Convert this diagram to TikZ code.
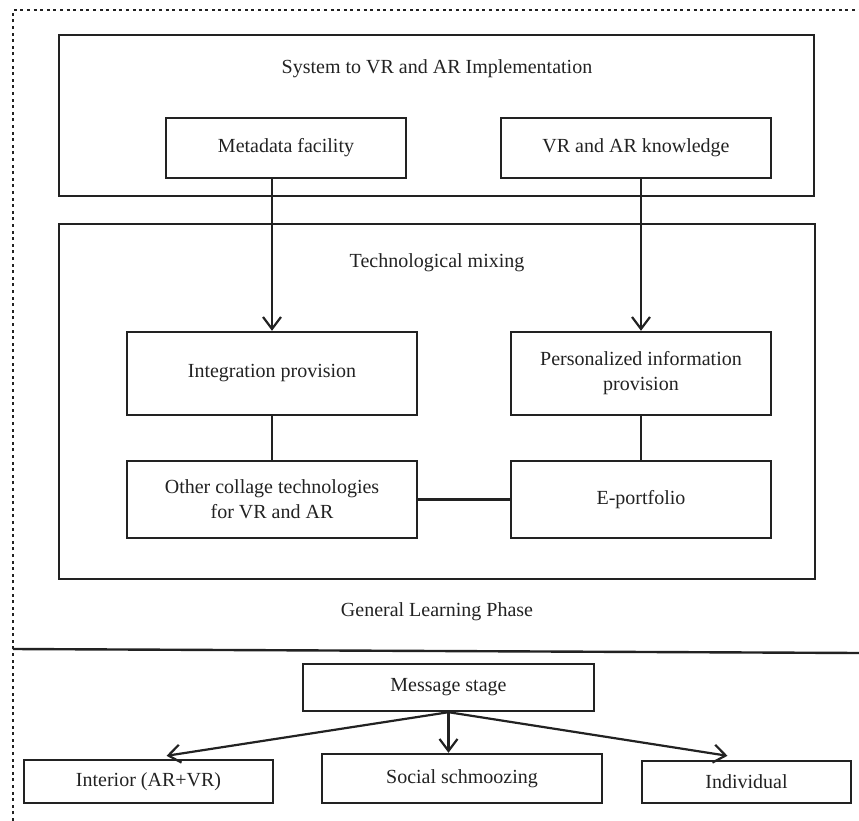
\documentclass[tikz,border=0pt]{standalone}
\usepackage{fontspec}
\setmainfont{Liberation Serif}
\usepackage{tikz}
\usetikzlibrary{arrows.meta,positioning,calc}
\definecolor{diagink}{HTML}{222222}
\tikzset{
  >={Straight Barb[length=12pt,width=18pt]},
  groupbox/.style={draw=diagink,line width=2.4pt,inner sep=0pt},
  itembox/.style={draw=diagink,line width=2.4pt,align=center,
                  font=\fontsize{20}{25}\selectfont,text=diagink,inner sep=2pt},
  titlenode/.style={font=\fontsize{20}{25}\selectfont,text=diagink},
  flowarrow/.style={->,line width=2.2pt,draw=diagink},
  linkline/.style={line width=2.4pt,draw=diagink},
  borderline/.style={line width=2.6pt,draw=diagink,dash pattern=on 3pt off 3.6pt},
}

\begin{document}
\begin{tikzpicture}[x=1pt,y=-1pt]
  \useasboundingbox (0,0) rectangle (859,821);
  % frame and phase divider
  \coordinate (fbot) at (13,821);
  \coordinate (fcorner) at (13,10);
  \coordinate (fright) at (859,10);
  \draw[borderline] (fbot) -- (fcorner) -- (fright);
  \coordinate (divl) at (13,649);
  \coordinate (divr) at (859,653);
  \draw[linkline] (divl) -- (divr);
  % general learning phase
  \node[groupbox,minimum width=755pt,minimum height=161pt] (sysbox) at (436.5,115.5) {};
  \node[titlenode] (systitle) at (437,69) {System to VR and AR Implementation};
  \node[itembox,minimum width=240pt,minimum height=60pt] (meta) at (286,148) {Metadata facility};
  \node[itembox,minimum width=270pt,minimum height=60pt] (know) at (636,148) {VR and AR knowledge};
  \node[groupbox,minimum width=756pt,minimum height=355pt] (mixbox) at (437,401.5) {};
  \node[titlenode] (mixtitle) at (437,263) {Technological mixing};
  \node[itembox,minimum width=290pt,minimum height=83pt] (integ) at (272,373.5) {Integration provision};
  \node[itembox,minimum width=260pt,minimum height=83pt] (pers) at (641,373.5) {Personalized information\\provision};
  \node[itembox,minimum width=290pt,minimum height=77pt] (other) at (272,499.5) {Other collage technologies\\for VR and AR};
  \node[itembox,minimum width=260pt,minimum height=77pt] (eport) at (641,499.5) {E-portfolio};
  \node[titlenode] (phase) at (437,612) {General Learning Phase};
  \draw[flowarrow] (meta.south -| integ.north) -- (integ.north);
  \draw[flowarrow] (know.south -| pers.north) -- (pers.north);
  \draw[linkline] (integ) -- (other);
  \draw[linkline] (pers) -- (eport);
  \draw[linkline] (other) -- (eport);
  % message stage
  \node[itembox,minimum width=291pt,minimum height=47pt] (msg) at (448.5,687.5) {Message stage};
  \node[itembox,minimum width=249pt,minimum height=43pt] (interior) at (148.5,781.5) {Interior (AR+VR)};
  \node[itembox,minimum width=280pt,minimum height=49pt] (social) at (462,778.5) {Social schmoozing};
  \node[itembox,minimum width=209pt,minimum height=42pt] (indiv) at (746.5,782) {Individual};
  \draw[flowarrow] (msg.south) -- ([xshift=18pt,yshift=3pt]interior.north);
  \draw[flowarrow] (msg.south) -- (msg.south |- social.north);
  \draw[flowarrow] (msg.south) -- ([xshift=-19pt,yshift=4pt]indiv.north);
\end{tikzpicture}
\end{document}
